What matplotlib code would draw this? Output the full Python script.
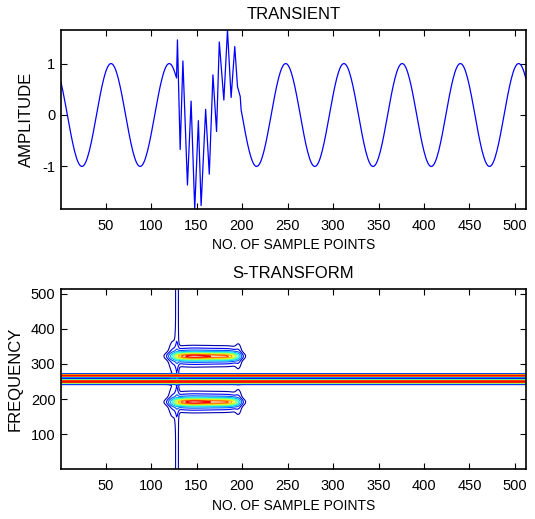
import numpy as np
import matplotlib
matplotlib.use("Agg")
import matplotlib.pyplot as plt

plt.rcParams['font.family'] = ['Liberation Sans', 'DejaVu Sans']
plt.rcParams['font.size'] = 10
plt.rcParams['axes.unicode_minus'] = False

# ---------------- data ----------------
N_SAMPLES = 512
# steady sinusoid (outside the transient)
SINE_AMP = 1.0
SINE_PERIOD = 64          # samples per cycle
SINE_PEAK = 56            # sample index of a crest
# transient burst: vertices (sample, amplitude)
burst_x = [128, 129, 132, 135, 140, 144, 148, 152, 155, 160, 164, 168, 172,
           175, 180, 184, 188, 192, 195, 198]
burst_y = [0.72, 1.46, -0.67, 1.05, -1.36, 0.27, -1.83, -0.11, -1.76, 0.11,
           -1.15, 0.78, -0.32, 1.42, 0.29, 1.65, 0.34, 1.33, 0.55, 0.36]

x_ticks = [50, 100, 150, 200, 250, 300, 350, 400, 450, 500]
amp_ticks = [-1, 0, 1]
freq_ticks = [100, 200, 300, 400, 500]

# S-transform features (frequency index vs sample)
blob_f = [322, 192]            # centre frequency of the two transient lobes
blob_sigma_core = 6.5
blob_sigma_wide = 16.0
blob_wide_share = 0.2
blob_x_knots = [126, 147, 170, 194]
blob_amp_knots = [0.88, 1.0, 0.9, 0.84]
stem_x = 128.5                 # broadband line at the start of the burst
stem_amp = 0.055
flare_x = 124                  # widening of the broadband line near the lobes
flare_amp = 0.05
tail_x = 196                   # small spread at the end of the burst
tail_amp = 0.05
ridge_f = [250, 267]           # steady component ridges
ridge_amp = [1.02, 0.98]
ridge_sigma = [3.2, 2.0]
levels = [0.03, 0.07, 0.13, 0.22, 0.32, 0.42, 0.52, 0.62, 0.72, 0.82, 0.92]

# ---------------- build series ----------------
n = np.arange(1, N_SAMPLES + 1)
sine = SINE_AMP * np.cos(2 * np.pi * (n - SINE_PEAK) / SINE_PERIOD)
pre = n < burst_x[0]
post = n > burst_x[-1]
sig_x = np.concatenate([n[pre], burst_x, n[post]])
sig_y = np.concatenate([sine[pre], burst_y, sine[post]])

# S-transform magnitude field
X, F = np.meshgrid(np.arange(1, N_SAMPLES + 1), np.arange(1, N_SAMPLES + 1))
def sig(z):
    return 1.0 / (1.0 + np.exp(-z))
plateau = sig((X - blob_x_knots[0]) / 3.5) * sig((blob_x_knots[-1] - X) / 3.0)
amp_x = np.interp(X, blob_x_knots, blob_amp_knots)
Z = np.zeros_like(X, dtype=float)
for fc in blob_f:
    d2 = (F - fc) ** 2
    prof = ((1 - blob_wide_share) * np.exp(-d2 / (2 * blob_sigma_core ** 2))
            + blob_wide_share * np.exp(-d2 / (2 * blob_sigma_wide ** 2)))
    Z += plateau * amp_x * prof
    Z += tail_amp * np.exp(-(X - tail_x) ** 2 / (2 * 2.5 ** 2)) * np.exp(-d2 / (2 * 30 ** 2))
    Z += flare_amp * np.exp(-(X - flare_x) ** 2 / (2 * 3.5 ** 2)) * np.exp(-d2 / (2 * 40 ** 2))
Z += stem_amp * np.exp(-(X - stem_x) ** 2 / (2 * 1.4 ** 2))
for fr, ar, sr in zip(ridge_f, ridge_amp, ridge_sigma):
    Z += ar * np.exp(-(F - fr) ** 2 / (2 * sr ** 2))

# ---------------- figure ----------------
fig = plt.figure(figsize=(5.35, 5.19), dpi=100)
ax1 = fig.add_axes([0.114, 0.597, 0.869, 0.345])
ax2 = fig.add_axes([0.114, 0.0958, 0.869, 0.3468])

ylab_font = dict(size=12)

ax1.plot(sig_x, sig_y, color='#0000ff', lw=0.9)
ax1.set_xlim(1, N_SAMPLES)
ax1.set_ylim(min(burst_y), max(burst_y))
ax1.set_xticks(x_ticks)
ax1.set_yticks(amp_ticks)
ax1.set_title('TRANSIENT', pad=8)
ax1.set_xlabel('NO. OF SAMPLE POINTS', labelpad=4)
ax1.set_ylabel('AMPLITUDE', labelpad=6, fontdict=ylab_font)

cmap = plt.get_cmap('jet')
cols = [cmap(v) for v in np.linspace(0.04, 0.9, len(levels))]
ax2.contour(X, F, Z, levels=levels, colors=cols, linewidths=0.8)
ax2.set_xlim(1, N_SAMPLES)
ax2.set_ylim(1, N_SAMPLES)
ax2.set_xticks(x_ticks)
ax2.set_yticks(freq_ticks)
ax2.set_title('S-TRANSFORM', pad=8)
ax2.set_xlabel('NO. OF SAMPLE POINTS', labelpad=4)
ax2.set_ylabel('FREQUENCY', labelpad=6, fontdict=ylab_font)

for ax in (ax1, ax2):
    ax.tick_params(direction='in', top=True, right=True, length=4, width=0.8,
                   labelsize=10.5)
    ax.tick_params(axis='x', pad=7)
    ax.tick_params(axis='y', pad=4)
    for s in ax.spines.values():
        s.set_linewidth(1.2)

fig.savefig('out.png', dpi=100)
